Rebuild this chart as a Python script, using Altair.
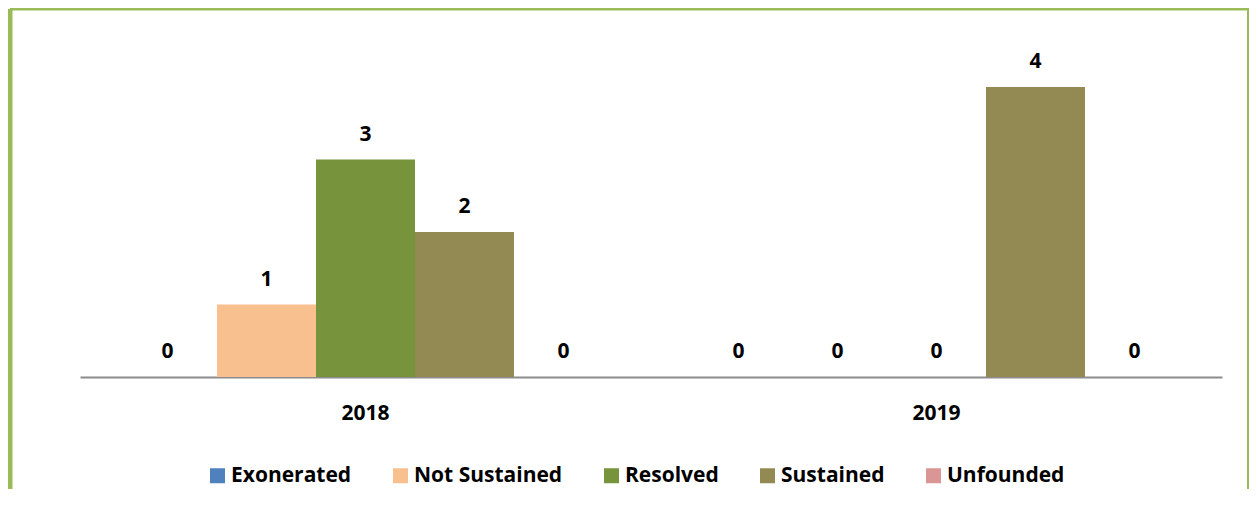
import altair as alt
import pandas as pd

years = ["2018", "2019"]
statuses = ["Exonerated", "Not Sustained", "Resolved", "Sustained", "Unfounded"]
exonerated = [0, 0]
not_sustained = [1, 0]
resolved = [3, 0]
sustained = [2, 4]
unfounded = [0, 0]
colors = ["#4F81BD", "#F9C08F", "#77933C", "#938953", "#D99694"]

series = {
    "Exonerated": exonerated,
    "Not Sustained": not_sustained,
    "Resolved": resolved,
    "Sustained": sustained,
    "Unfounded": unfounded,
}
rows = []
for s in statuses:
    for y, v in zip(years, series[s]):
        rows.append({"year": y, "status": s, "value": v})
df = pd.DataFrame(rows)

FONT = "Open Sans"
FS = 21
W, H = 1239, 480

x_enc = alt.X(
    "year:N",
    sort=years,
    scale=alt.Scale(range=[70, 1212], paddingInner=0, paddingOuter=0),
    axis=alt.Axis(
        title=None,
        labelAngle=0,
        ticks=False,
        tickSize=0,
        domainColor="#8c8c8c",
        domainWidth=2,
        labelFont=FONT,
        labelFontWeight="bold",
        labelFontSize=FS,
        labelColor="#000000",
        labelBaseline="alphabetic",
        labelPadding=42,
        offset=368 - H,
        grid=False,
    ),
)
xo_enc = alt.XOffset(
    "status:N",
    sort=statuses,
    scale=alt.Scale(domain=statuses, paddingInner=0, paddingOuter=0.384),
)
y_enc = alt.Y(
    "value:Q",
    scale=alt.Scale(domain=[0, 4], range=[368, 78], nice=False, zero=True),
    axis=None,
)

base = alt.Chart(df)

bars = base.mark_bar().encode(
    x=x_enc,
    xOffset=xo_enc,
    y=y_enc,
    color=alt.Color(
        "status:N",
        sort=statuses,
        scale=alt.Scale(domain=statuses, range=colors),
        legend=alt.Legend(
            title=None,
            orient="none",
            direction="horizontal",
            legendX=197,
            legendY=456,
            symbolType="square",
            symbolSize=225,
            symbolStrokeWidth=0,
            symbolOpacity=1,
            labelFont=FONT,
            labelFontWeight="bold",
            labelFontSize=FS,
            labelColor="#000000",
            labelOffset=3,
            columnPadding=38,
            labelLimit=400,
        ),
    ),
)

labels = base.mark_text(
    font=FONT, fontWeight="bold", fontSize=FS, color="#000000",
    baseline="alphabetic", dy=-19,
).encode(
    x=x_enc,
    xOffset=xo_enc,
    y=y_enc,
    text=alt.Text("value:Q"),
)

frame_df = pd.DataFrame({"k": [0]})
frame = alt.Chart(frame_df)
left = frame.mark_rule(color="#9BBB59", strokeWidth=5).encode(
    x=alt.value(0), y=alt.value(0), y2=alt.value("height"))
top = frame.mark_rule(color="#9BBB59", strokeWidth=3).encode(
    x=alt.value(0), x2=alt.value("width"), y=alt.value(0))
right = frame.mark_rule(color="#9BBB59", strokeWidth=4).encode(
    x=alt.value("width"), y=alt.value(0), y2=alt.value("height"))

chart = alt.layer(bars, labels, left, top, right).properties(
    width=W,
    height=H,
    padding={"left": 2, "top": 1, "right": 0, "bottom": 0},
    autosize=alt.AutoSizeParams(type="none"),
).configure_view(stroke=None).configure(background="#ffffff")

chart.save("out.html", embed_options={"renderer": "svg", "actions": False})
